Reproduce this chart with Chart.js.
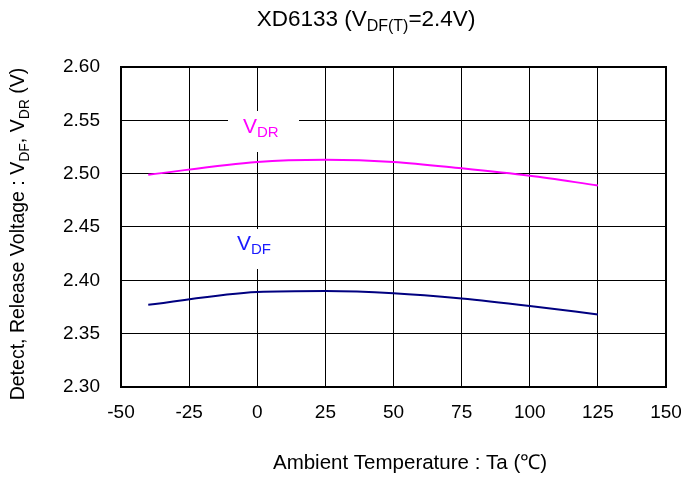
<!DOCTYPE html>
<html>
<head>
<meta charset="utf-8">
<script src="https://cdn.jsdelivr.net/npm/chart.js@4.4.0/dist/chart.umd.min.js"></script>
<style>
html,body{margin:0;padding:0;background:#fff;}
#wrap{width:681px;height:477px;position:relative;}
</style>
</head>
<body>
<div id="wrap"><canvas id="c" width="681" height="477"></canvas></div>
<script>
const temperatures = [-40, 0, 25, 50, 75, 100, 125];
const vdrValues = [2.499, 2.511, 2.513, 2.511, 2.505, 2.498, 2.489];
const vdfValues = [2.377, 2.389, 2.390, 2.388, 2.383, 2.376, 2.368];
const xTicks = [-50, -25, 0, 25, 50, 75, 100, 125, 150];
const yTicks = [2.30, 2.35, 2.40, 2.45, 2.50, 2.55, 2.60];

const FONT = '"Liberation Sans", Arial, sans-serif';

function drawRich(ctx, parts, x, y, size, align) {
  const subSize = Math.round(size * 0.72);
  let total = 0;
  const widths = parts.map(p => {
    ctx.font = (p[1] ? subSize : size) + 'px ' + FONT;
    const w = ctx.measureText(p[0]).width;
    total += w;
    return w;
  });
  let cx = align === 'center' ? x - total / 2 : x;
  ctx.textBaseline = 'middle';
  ctx.textAlign = 'left';
  parts.forEach((p, i) => {
    ctx.font = (p[1] ? subSize : size) + 'px ' + FONT;
    ctx.fillText(p[0], cx, p[1] ? y + size * 0.3 : y);
    cx += widths[i];
  });
}

const decor = {
  id: 'decor',
  afterDraw(chart) {
    const ctx = chart.ctx;
    ctx.save();
    ctx.fillStyle = '#fff';
    ctx.fillRect(228, 111, 71, 41);
    ctx.fillRect(228, 229, 64, 40);
    ctx.fillStyle = '#ff00ff';
    drawRich(ctx, [['V', false], ['DR', true]], 243, 127, 21, 'left');
    ctx.fillStyle = '#1a1aff';
    drawRich(ctx, [['V', false], ['DF', true]], 237, 244, 21, 'left');
    ctx.fillStyle = '#000';
    drawRich(ctx, [['XD6133 (V', false], ['DF(T)', true], ['=2.4V)', false]], 366, 20, 22.5, 'center');
    ctx.font = '20.5px ' + FONT;
    ctx.textAlign = 'center';
    ctx.textBaseline = 'middle';
    ctx.fillText('Ambient Temperature : Ta (\u2103)', 410, 463);
    ctx.translate(19, 234);
    ctx.rotate(-Math.PI / 2);
    drawRich(ctx, [['Detect, Release Voltage : V', false], ['DF', true], [', V', false], ['DR', true], [' (V)', false]], 0, 0, 19.5, 'center');
    ctx.restore();
    ctx.save();
    ctx.strokeStyle = '#000';
    ctx.lineWidth = 2;
    const a = chart.chartArea;
    ctx.strokeRect(a.left, a.top, a.right - a.left, a.bottom - a.top);
    ctx.restore();
  }
};

new Chart(document.getElementById('c'), {
  type: 'scatter',
  data: {
    datasets: [
      {
        label: 'VDR',
        data: temperatures.map((t, i) => ({x: t, y: vdrValues[i]})),
        showLine: true,
        borderColor: '#ff00ff',
        borderWidth: 2,
        pointRadius: 0,
        cubicInterpolationMode: 'monotone'
      },
      {
        label: 'VDF',
        data: temperatures.map((t, i) => ({x: t, y: vdfValues[i]})),
        showLine: true,
        borderColor: '#000080',
        borderWidth: 2,
        pointRadius: 0,
        cubicInterpolationMode: 'monotone'
      }
    ]
  },
  options: {
    responsive: false,
    animation: false,
    devicePixelRatio: 1,
    layout: {padding: {left: 0, top: 67, right: 15, bottom: 0}},
    plugins: {legend: {display: false}, tooltip: {enabled: false}, title: {display: false}},
    scales: {
      x: {
        type: 'linear',
        min: -50, max: 150,
        afterBuildTicks: s => { s.ticks = xTicks.map(v => ({value: v})); },
        afterFit: s => { s.height = 90; s.paddingLeft = 0; s.paddingRight = 0; },
        grid: {color: '#000', lineWidth: 1, drawTicks: false},
        border: {display: false},
        ticks: {color: '#000', font: {family: FONT, size: 19}, padding: 14, maxRotation: 0, autoSkip: false}
      },
      y: {
        type: 'linear',
        min: 2.3, max: 2.6,
        afterBuildTicks: s => { s.ticks = yTicks.map(v => ({value: v})); },
        afterFit: s => { s.width = 121; s.paddingTop = 0; s.paddingBottom = 0; },
        grid: {color: '#000', lineWidth: 1, drawTicks: false},
        border: {display: false},
        ticks: {color: '#000', font: {family: FONT, size: 19}, padding: 21, callback: v => Number(v).toFixed(2)}
      }
    }
  },
  plugins: [decor]
});
</script>
</body>
</html>
